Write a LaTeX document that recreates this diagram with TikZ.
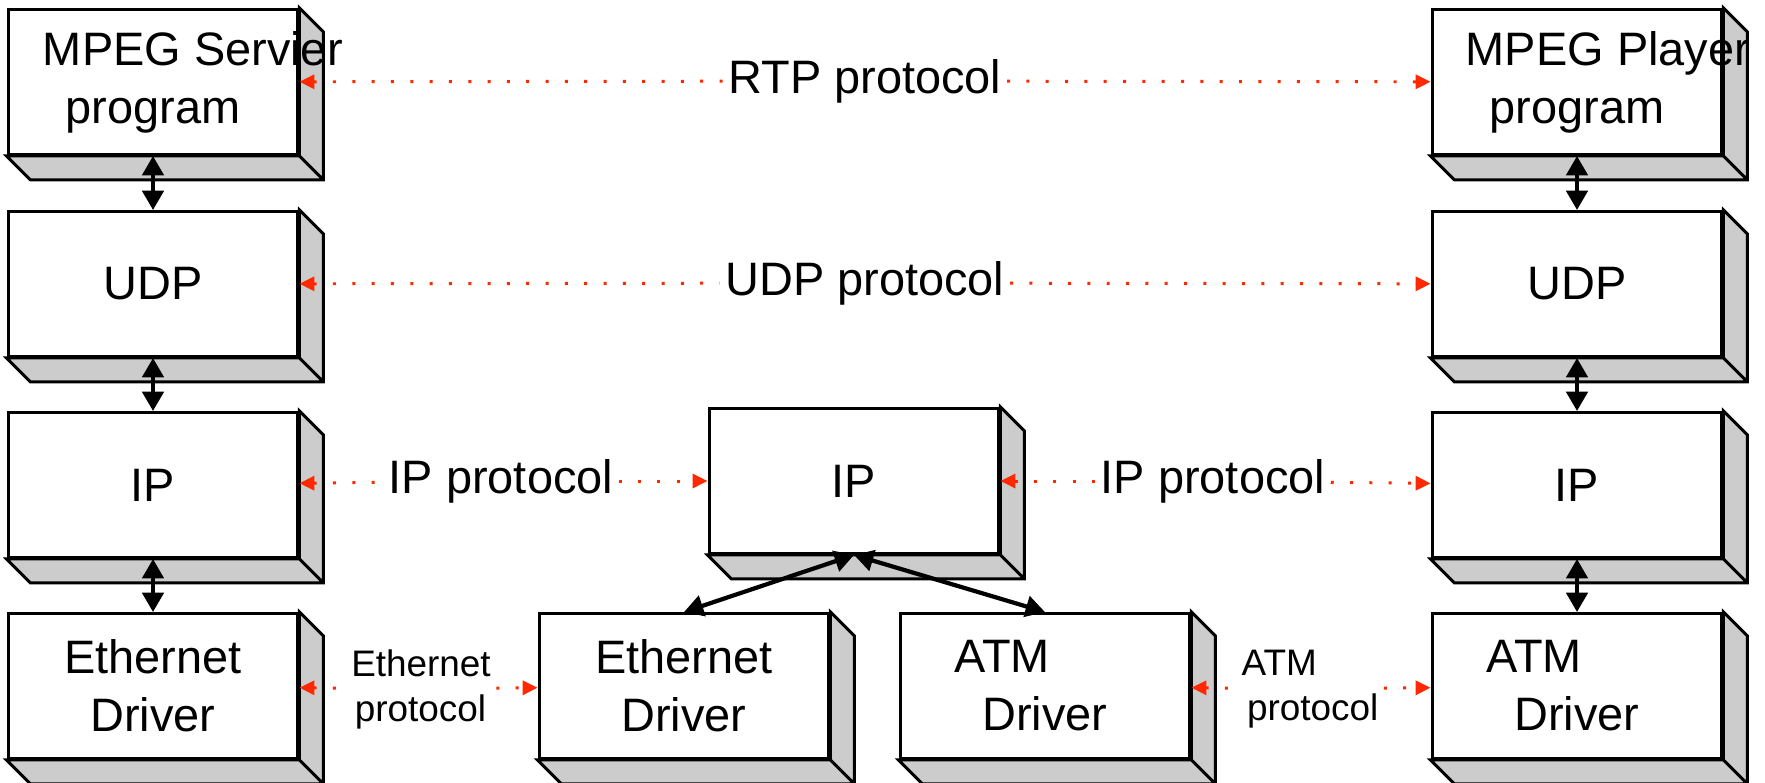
\documentclass[tikz,border=0pt]{standalone}
\usepackage{fontspec}
\setmainfont{Liberation Sans}
\usetikzlibrary{arrows.meta,backgrounds}

\definecolor{protored}{RGB}{255,40,0}
\definecolor{sidegray}{RGB}{204,204,204}

\tikzset{
	layer/.style={draw, line width=1.7pt, fill=white, minimum width=5.8cm, minimum height=2.9cm,
		inner sep=0pt, align=center, font=\fontsize{26.7pt}{33pt}\selectfont},
	side/.style={draw, line width=1.7pt, fill=sidegray, line join=miter},
	biglbl/.style={inner sep=3pt, font=\fontsize{26.7pt}{33pt}\selectfont},
	smalllbl/.style={inner sep=3pt, align=left, font=\fontsize{21pt}{25.6pt}\selectfont},
	proto/.style={protored, line width=1.7pt, dash pattern=on 1.7pt off 9.3pt,
		>={Triangle[length=8.5pt,width=8pt]}},
	link/.style={line width=2.4pt, >={Triangle[length=11pt,width=12pt]}, <->}
}

\begin{document}
\begin{tikzpicture}[x=0.02cm, y=-0.02cm]
	\useasboundingbox (0,0) rectangle (1765,782);

	\node[layer] (srvL) at (153, 82)  {\makebox[0pt]{\kern1.7em MPEG Servier}\\program};
	\node[layer] (udpL) at (153, 284) {UDP};
	\node[layer] (ipL)  at (153, 485) {IP};
	\node[layer] (ethL) at (153, 686) {Ethernet\\Driver};

	\node[layer] (ipM)  at (854, 481) {IP};
	\node[layer] (ethM) at (684, 686) {Ethernet\\Driver};
	\node[layer] (atmM) at (1045, 686) {\makebox[0pt]{ATM\kern1.83em}\\Driver};

	\node[layer] (plyR) at (1577, 82)  {\makebox[0pt]{\kern1.32em MPEG Player}\\program};
	\node[layer] (udpR) at (1577, 284) {UDP};
	\node[layer] (ipR)  at (1577, 485) {IP};
	\node[layer] (atmR) at (1577, 686) {\makebox[0pt]{ATM\kern1.83em}\\Driver};

	\begin{scope}[on background layer]
		\foreach \b in {srvL,udpL,ipL,ethL,ipM,ethM,atmM,plyR,udpR,ipR,atmR}
			\draw[side] (\b.north east) -- ++(24,24) -- ([shift={(24,24)}]\b.south east)
				-- ([shift={(24,24)}]\b.south west) -- (\b.south west) -- (\b.south east) -- cycle
				(\b.south east) -- ++(24,24);
	\end{scope}

	\node[biglbl] (rtp)  at (865, 81)  {RTP protocol};
	\node[biglbl] (udpP) at (865, 283) {UDP protocol};
	\node[biglbl] (ipP1) at (501, 481) {IP protocol};
	\node[biglbl] (ipP2) at (1213, 481) {IP protocol};
	\node[smalllbl] (ethP) at (421, 689) {Ethernet\\\hspace*{2pt}protocol};
	\node[smalllbl] (atmP) at (1310, 689) {ATM\\\hspace*{3pt}protocol};

	\draw[proto, <-] (srvL) -- (rtp);
	\draw[proto, ->] (rtp) -- (plyR);
	\draw[proto, <-] (udpL) -- (udpP);
	\draw[proto, ->] (udpP) -- (udpR);
	\draw[proto, <-] (ipL) -- (ipP1);
	\draw[proto, ->] (ipP1) -- (ipM);
	\draw[proto, <-] (ipM) -- (ipP2);
	\draw[proto, ->] (ipP2) -- (ipR);
	\draw[proto, <-] (ethL) -- (ethP);
	\draw[proto, ->] (ethP) -- (ethM);
	\draw[proto, <-] (atmM) -- (atmP);
	\draw[proto, ->] (atmP) -- (atmR);

	\draw[link] (srvL) -- (udpL);
	\draw[link] (udpL) -- (ipL);
	\draw[link] (ipL) -- (ethL);
	\draw[link] (plyR) -- (udpR);
	\draw[link] (udpR) -- (ipR);
	\draw[link] (ipR) -- (atmR);
	\draw[link] (ipM.south) -- (ethM.north);
	\draw[link] (ipM.south) -- (atmM.north);
\end{tikzpicture}
\end{document}
